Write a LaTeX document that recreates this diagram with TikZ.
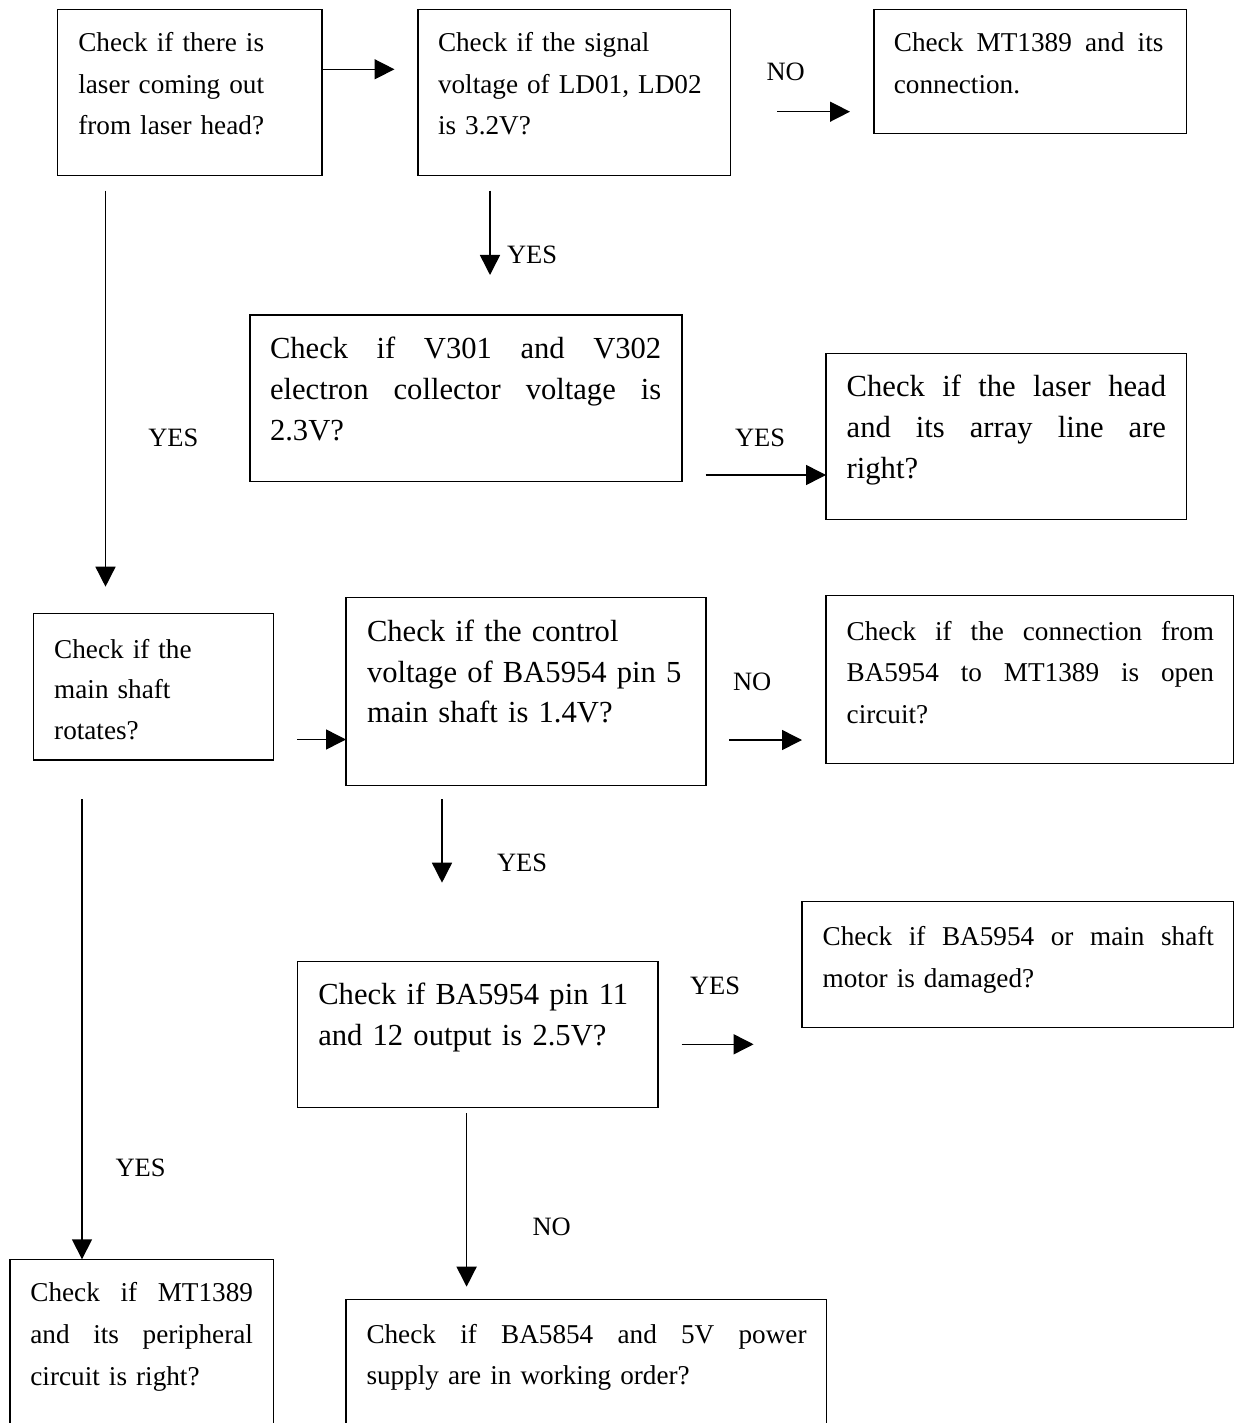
\documentclass[tikz,border=0pt]{standalone}
\usepackage{fontspec}
\setmainfont{Liberation Serif}
\usetikzlibrary{arrows.meta}
\newcommand{\jline}[2]{\makebox[#1pt][s]{#2}}
\newcommand{\gap}{\hspace{0pt plus 1fill}}
\begin{document}
\begin{tikzpicture}[x=1pt,y=-1pt,
  box/.style={draw, line width=1.5pt, inner sep=0pt, outer sep=0pt, anchor=north west, shape=rectangle},
  txt/.style={anchor=base west, inner sep=0pt, outer sep=0pt, align=left},
  small/.style={font=\fontsize{27.2}{41.5}\selectfont},
  big/.style={font=\fontsize{30.6}{41}\selectfont},
  lab/.style={anchor=base west, inner sep=0pt, outer sep=0pt, font=\fontsize{26.5}{30}\selectfont},
  arr/.style={line width=1.5pt, -{Triangle[length=20pt,width=20pt]}}
]
\useasboundingbox (0,0) rectangle (1236,1423);
\fill[white] (0,0) rectangle (1236,1423);
\clip (0,0) rectangle (1236,1423);

% boxes
\node[box, minimum width=264.3, minimum height=166.4] (b1) at (57.7,9.3) {};
\node[box, minimum width=312.5, minimum height=166.4] (b2) at (418,9.3) {};
\node[box, minimum width=312.6, minimum height=124] (b3) at (874,9.3) {};
\node[box, minimum width=432, minimum height=166.7] (b4) at (250,315) {};
\node[box, minimum width=360.6, minimum height=166] (b5) at (826,353.3) {};
\node[box, minimum width=240, minimum height=146.7] (b6) at (33.6,613.3) {};
\node[box, minimum width=360, minimum height=188.2] (b7) at (346,597.5) {};
\node[box, minimum width=407.7, minimum height=168] (b8) at (826,595.3) {};
\node[box, minimum width=360.5, minimum height=146] (b9) at (297.5,961.7) {};
\node[box, minimum width=431.7, minimum height=126] (b10) at (802,901.7) {};
\node[box, minimum width=263.6, minimum height=200] (b11) at (10,1259.3) {};
\node[box, minimum width=480.3, minimum height=160] (b12) at (346,1299.3) {};

% texts
\node[txt, small, text width=240] (t1) at (78.3,51.7)
  {Check if there is\\laser coming out\\from laser head?};
\node[txt, small, text width=290] (t2) at (438,51.7)
  {Check if the signal\\voltage of LD01, LD02\\is 3.2V?};
\node[txt, small, text width=269.5] (t3) at (893.9,51.7)
  {\jline{269.5}{Check\gap MT1389\gap and\gap its}\\connection.};
\node[txt, big, text width=391.3] (t4) at (270,358.3)
  {\jline{391.3}{Check\gap if\gap V301\gap and\gap V302}\\\jline{391.3}{electron\gap collector\gap voltage\gap is}\\2.3V?};
\node[txt, big, text width=319.3] (t5) at (846.7,396)
  {\jline{319.3}{Check\gap if\gap the\gap laser\gap head}\\\jline{319.3}{and\gap its\gap array\gap line\gap are}\\right?};
\node[txt, font=\fontsize{27.2}{40.5}\selectfont, text width=210] (t6) at (54.2,658.3)
  {Check if the\\main shaft\\rotates?};
\node[txt, font=\fontsize{30.6}{40.5}\selectfont, text width=330] (t7) at (367,641.7)
  {Check if the control\\voltage of BA5954 pin 5\\main shaft is 1.4V?};
\node[txt, small, text width=367.3] (t8) at (846.7,640)
  {\jline{367.3}{Check\gap if\gap the\gap connection\gap from}\\\jline{367.3}{BA5954\gap to\gap MT1389\gap is\gap open}\\circuit?};
\node[txt, font=\fontsize{30.6}{41.7}\selectfont, text width=330] (t9) at (318.3,1004)
  {Check if BA5954 pin 11\\and 12 output is 2.5V?};
\node[txt, small, text width=391.3] (t10) at (822.7,945.7)
  {\jline{391.3}{Check\gap if\gap BA5954\gap or\gap main\gap shaft}\\motor is damaged?};
\node[txt, font=\fontsize{27.2}{42}\selectfont, text width=222.6] (t11) at (30.4,1301)
  {\jline{222.6}{Check\gap if\gap MT1389}\\\jline{222.6}{and\gap its\gap peripheral}\\circuit is right?};
\node[txt, small, text width=440.1] (t12) at (366.5,1343.3)
  {\jline{440.1}{Check\gap if\gap BA5854\gap and\gap 5V\gap power}\\supply are in working order?};

% labels
\node[lab] (l1) at (766.6,81) {NO};
\node[lab] (l2) at (507,263) {YES};
\node[lab] (l3) at (148.3,446) {YES};
\node[lab] (l4) at (735,446) {YES};
\node[lab] (l5) at (733,690) {NO};
\node[lab] (l6) at (497,871.7) {YES};
\node[lab] (l7) at (115.5,1176) {YES};
\node[lab] (l8) at (690,994.3) {YES};
\node[lab] (l9) at (532.6,1235) {NO};

% connector end points
\coordinate (a1e) at (394.5,69.3);
\coordinate (a2s) at (777,111.7);
\coordinate (a2e) at (850,111.7);
\coordinate (a3s) at (490,190.7);
\coordinate (a3e) at (490,275);
\coordinate (a4s) at (105.5,190.7);
\coordinate (a4e) at (105.5,586.7);
\coordinate (a5s) at (705.7,475);
\coordinate (a6s) at (297.4,739.5);
\coordinate (a7s) at (729,740);
\coordinate (a7e) at (802,740);
\coordinate (a8s) at (442,799);
\coordinate (a8e) at (442,882.7);
\coordinate (a9s) at (82,799);
\coordinate (a10s) at (681.7,1044.3);
\coordinate (a10e) at (753.6,1044.3);
\coordinate (a11s) at (466.6,1113.3);
\coordinate (a11e) at (466.6,1286.7);

% connectors
\draw[arr] (a1e -| b1.east) -- (a1e);
\draw[arr] (a2s) -- (a2e);
\draw[arr] (a3s) -- (a3e);
\draw[arr] (a4s) -- (a4e);
\draw[arr] (a5s) -- (a5s -| b5.west);
\draw[arr] (a6s) -- (a6s -| b7.west);
\draw[arr] (a7s) -- (a7e);
\draw[arr] (a8s) -- (a8e);
\draw[arr] (a9s) -- (a9s |- b11.north);
\draw[arr] (a10s) -- (a10e);
\draw[arr] (a11s) -- (a11e);
\end{tikzpicture}
\end{document}
